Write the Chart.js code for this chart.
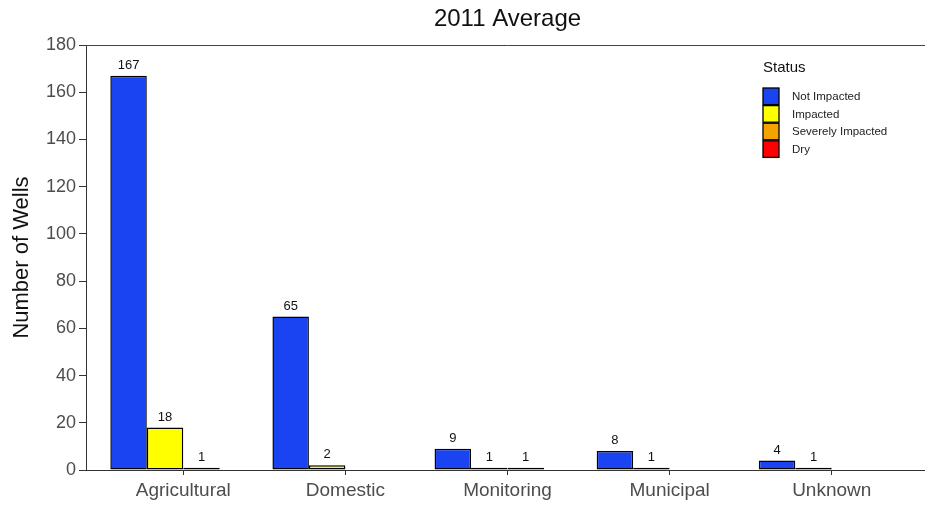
<!DOCTYPE html>
<html>
<head>
<meta charset="utf-8">
<script src="https://cdn.jsdelivr.net/npm/chart.js@4/dist/chart.umd.min.js"></script>
<style>
  html, body { margin: 0; padding: 0; background: #fff; overflow: hidden; }
  #wrap { width: 935px; height: 506px; }
</style>
</head>
<body>
<div id="wrap"><canvas id="c" width="935" height="506"></canvas></div>
<script>
// Well counts by use type and impact status, 2011 average
const chartTitle = '2011 Average';
const categories = ['Agricultural', 'Domestic', 'Monitoring', 'Municipal', 'Unknown'];
const statusLabels = ['Not Impacted', 'Impacted', 'Severely Impacted', 'Dry'];
const notImpacted      = [167, 65, 9, 8, 4];
const impacted         = [18, 2, 1, 1, 1];
const severelyImpacted = [1, null, 1, null, null];
const dry              = [null, null, null, null, null];
const yTicks = [0, 20, 40, 60, 80, 100, 120, 140, 160, 180];

const statusColors = ['#1a44f2', '#ffff00', '#f5a300', '#ff0000'];
const series = [notImpacted, impacted, severelyImpacted, dry];

const FONT = '"Liberation Sans", Arial, sans-serif';

const datasets = series.map((vals, k) => ({
  label: statusLabels[k],
  data: vals.map((v, i) => ({ x: i, y: v })),
  backgroundColor: statusColors[k],
  borderColor: '#000',
  borderWidth: 1.5,
  borderSkipped: false,
  categoryPercentage: 0.9,
  barPercentage: 1.0
}));

const whiteBg = {
  id: 'whiteBg',
  beforeDraw(chart) {
    const ctx = chart.ctx;
    ctx.save();
    ctx.fillStyle = '#fff';
    ctx.fillRect(0, 0, chart.width, chart.height);
    ctx.restore();
  }
};

// title centred over the panel, plus the top edge of the panel frame
const panelDecor = {
  id: 'panelDecor',
  afterDraw(chart) {
    const { ctx, chartArea: a } = chart;
    ctx.save();
    ctx.strokeStyle = '#444';
    ctx.lineWidth = 1;
    ctx.beginPath();
    ctx.moveTo(a.left, a.top + 0.5);
    ctx.lineTo(a.right, a.top + 0.5);
    ctx.stroke();
    ctx.fillStyle = '#111';
    ctx.font = '24px ' + FONT;
    ctx.textAlign = 'center';
    ctx.textBaseline = 'middle';
    ctx.fillText(chartTitle, (a.left + a.right) / 2, 19);
    ctx.restore();
  }
};

// count printed above each bar
const valueLabels = {
  id: 'valueLabels',
  afterDatasetsDraw(chart) {
    const ctx = chart.ctx;
    ctx.save();
    ctx.font = '13px ' + FONT;
    ctx.fillStyle = '#111';
    ctx.textAlign = 'center';
    ctx.textBaseline = 'bottom';
    chart.data.datasets.forEach((ds, di) => {
      const meta = chart.getDatasetMeta(di);
      meta.data.forEach((el, i) => {
        const v = ds.data[i].y;
        if (v === null || v === undefined) return;
        ctx.fillText(String(v), el.x, el.y - 4);
      });
    });
    ctx.restore();
  }
};

// status legend inside the panel, top right
const statusLegend = {
  id: 'statusLegend',
  afterDraw(chart) {
    const { ctx, chartArea: a } = chart;
    const x0 = a.right - 166;
    const y0 = a.top + 23;
    ctx.save();
    ctx.fillStyle = '#111';
    ctx.font = '15px ' + FONT;
    ctx.textAlign = 'left';
    ctx.textBaseline = 'middle';
    ctx.fillText('Status', x0, y0);
    const rowH = 17.6;
    chart.data.datasets.forEach((ds, k) => {
      const top = y0 + 20 + k * rowH;
      ctx.fillStyle = ds.backgroundColor;
      ctx.fillRect(x0, top, 16, rowH - 1);
      ctx.strokeStyle = '#000';
      ctx.lineWidth = 1.3;
      ctx.strokeRect(x0, top, 16, rowH - 1);
      ctx.fillStyle = '#222';
      ctx.font = '11.5px ' + FONT;
      ctx.fillText(ds.label, x0 + 29, top + rowH / 2);
    });
    ctx.restore();
  }
};

new Chart(document.getElementById('c'), {
  type: 'bar',
  data: { datasets },
  plugins: [whiteBg, valueLabels, panelDecor, statusLegend],
  options: {
    responsive: false,
    devicePixelRatio: 1,
    animation: false,
    layout: { padding: { left: 0, right: 6, top: 45, bottom: 0 } },
    plugins: {
      legend: { display: false },
      tooltip: { enabled: false },
      title: { display: false }
    },
    scales: {
      x: {
        type: 'linear',
        offset: false,
        min: -0.6,
        max: categories.length - 0.4,
        afterBuildTicks(scale) {
          scale.ticks = categories.map((c, i) => ({ value: i }));
        },
        afterFit(scale) { scale.height = 36; },
        ticks: {
          callback: (v) => categories[v],
          color: '#4d4d4d',
          font: { family: FONT, size: 19 },
          padding: 4,
          autoSkip: false,
          maxRotation: 0
        },
        grid: { offset: false, drawOnChartArea: false, drawTicks: true, tickLength: 5, color: '#333' },
        border: { display: true, color: '#333', width: 1 }
      },
      y: {
        min: 0,
        max: 180,
        afterBuildTicks(scale) {
          scale.ticks = yTicks.map(v => ({ value: v }));
        },
        afterFit(scale) { scale.width = 86; },
        ticks: {
          color: '#4d4d4d',
          font: { family: FONT, size: 18 },
          padding: 3
        },
        grid: { drawOnChartArea: false, drawTicks: true, tickLength: 7, color: '#333' },
        border: { display: true, color: '#333', width: 1 },
        title: {
          display: true,
          text: 'Number of Wells',
          color: '#111',
          font: { family: FONT, size: 22 },
          padding: { top: 9, bottom: 0 }
        }
      }
    }
  }
});
</script>
</body>
</html>
